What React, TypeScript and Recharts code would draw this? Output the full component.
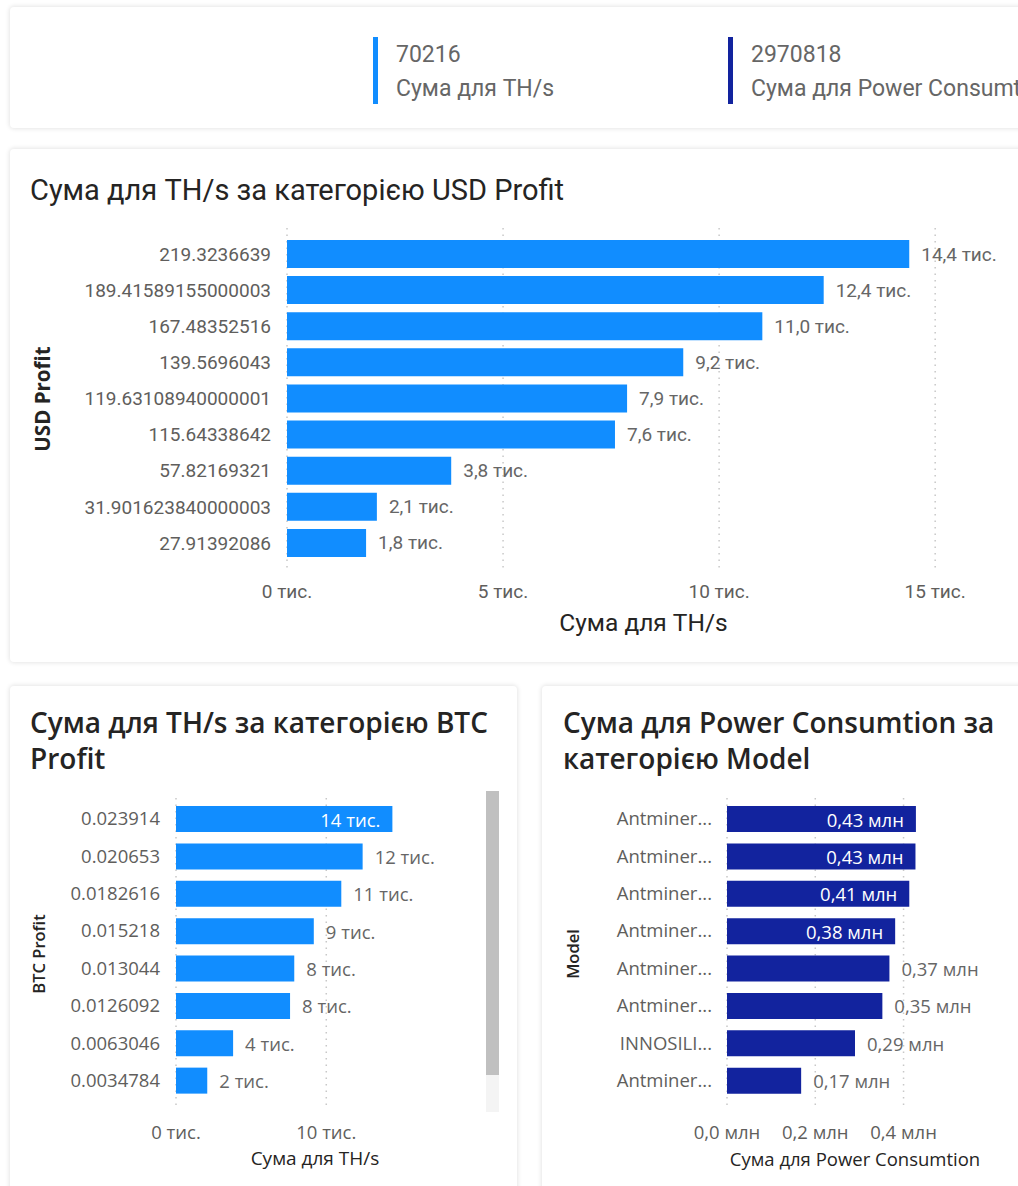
import React from "react";
import { BarChart, Bar, XAxis, YAxis, CartesianGrid, LabelList } from "recharts";

// KPI cards
const kpiValues = [70216, 2970818];
const kpiNames = ["Сума для TH/s", "Сума для Power Consumtion"];

// Сума для TH/s за категорією USD Profit
const usdProfitCats = [
  "219.3236639",
  "189.41589155000003",
  "167.48352516",
  "139.5696043",
  "119.63108940000001",
  "115.64338642",
  "57.82169321",
  "31.901623840000003",
  "27.91392086",
];
const usdThs = [14400, 12420, 11000, 9170, 7870, 7590, 3800, 2080, 1830];
const usdTicks = [0, 5000, 10000, 15000];

// Сума для TH/s за категорією BTC Profit (visible rows)
const btcProfitCats = [
  "0.023914",
  "0.020653",
  "0.0182616",
  "0.015218",
  "0.013044",
  "0.0126092",
  "0.0063046",
  "0.0034784",
];
const btcThs = [14400, 12420, 11000, 9170, 7870, 7590, 3800, 2080];
const btcTicks = [0, 10000];

// Сума для Power Consumtion за категорією Model
const modelCats = [
  "Antminer...",
  "Antminer...",
  "Antminer...",
  "Antminer...",
  "Antminer...",
  "Antminer...",
  "INNOSILI...",
  "Antminer...",
];
const modelPower = [428000, 427000, 413000, 381000, 368000, 352000, 290000, 168000];
const powerTicks = [0, 200000, 400000];

const LIGHT = "#118DFF";
const DARK = "#12239E";
const DIN = "Roboto, sans-serif";
const SEGOE = "'Segoe UI', 'Open Sans', sans-serif";
const TITLE = "#252423";
const GRAY = "#605E5C";

const usdData = usdProfitCats.map((name, i) => ({ name, value: usdThs[i] }));
const btcData = btcProfitCats.map((name, i) => ({ name, value: btcThs[i] }));
const modelData = modelCats.map((name, i) => ({ name, value: modelPower[i] }));

const comma = (s: string) => s.replace(".", ",");

function HBar(props: any) {
  const {
    data, width, height, margin, yWidth, domain, ticks, color, barSize, pad,
    tickFont, tickFmt, tickDy, labelFont, labelFmt, insideFrom,
    yTitle, yTitleX, yTitleStyle, xTitle, xTitleDy, xTitleStyle, yTickMargin, plotH,
  } = props;

  const xTick = (p: any) => (
    <text x={p.x} y={p.y + tickDy} textAnchor="middle" dominantBaseline="central" style={{ ...tickFont, fill: GRAY }}>
      {tickFmt(p.payload.value)}
    </text>
  );

  const xLabel = (p: any) => {
    const vb = p.viewBox;
    return (
      <text x={vb.x + vb.width / 2} y={vb.y + xTitleDy} textAnchor="middle" dominantBaseline="central" style={{ ...xTitleStyle, fill: TITLE }}>
        {xTitle}
      </text>
    );
  };

  const yLabel = (p: any) => {
    const vb = p.viewBox;
    const cx = vb.x + yTitleX;
    const cy = vb.y + vb.height / 2;
    return (
      <text x={cx} y={cy} transform={`rotate(-90 ${cx} ${cy})`} textAnchor="middle" dominantBaseline="central" style={{ ...yTitleStyle, fill: TITLE }}>
        {yTitle}
      </text>
    );
  };

  const barLabel = (p: any) => {
    const x = Number(p.x), y = Number(p.y), w = Number(p.width), h = Number(p.height);
    const inside = p.value >= insideFrom;
    return (
      <text
        x={inside ? x + w - 12 : x + w + 12}
        y={y + h / 2}
        textAnchor={inside ? "end" : "start"}
        dominantBaseline="central"
        style={{ ...labelFont, fill: inside ? "#ffffff" : "#666666" }}
      >
        {labelFmt(p.value)}
      </text>
    );
  };

  // grid only on the axis ticks
  const gridX = (args: any) => {
    const sc = args && args.xAxis && args.xAxis.scale;
    if (typeof sc === "function") return ticks.map((t: number) => sc(t));
    const o = args.offset;
    return ticks.map((t: number) => o.left + ((t - domain[0]) / (domain[1] - domain[0])) * o.width);
  };

  return (
    <BarChart width={width} height={height} data={data} layout="vertical" margin={margin}>
      <CartesianGrid
        horizontal={false}
        stroke="#c8c8c8"
        strokeDasharray="1.5 5"
        strokeWidth={1.5}
        verticalCoordinatesGenerator={gridX}
      />
      <XAxis
        type="number"
        domain={domain}
        ticks={ticks}
        interval={0}
        axisLine={false}
        tickLine={false}
        tickSize={0}
        tickMargin={0}
        height={height - margin.top - margin.bottom - plotH}
        tick={xTick}
        label={xLabel}
      />
      <YAxis
        type="category"
        dataKey="name"
        width={yWidth}
        interval={0}
        axisLine={false}
        tickLine={false}
        tickSize={0}
        tickMargin={yTickMargin}
        padding={pad}
        tick={{ ...tickFont, fill: GRAY }}
        label={yLabel}
      />
      <Bar dataKey="value" fill={color} barSize={barSize} isAnimationActive={false}>
        <LabelList dataKey="value" content={barLabel} />
      </Bar>
    </BarChart>
  );
}

const cardStyle = (left: number, top: number, width: number, height: number): React.CSSProperties => ({
  position: "absolute",
  left,
  top,
  width,
  height,
  background: "#fff",
  borderRadius: 4,
  boxShadow: "0 0 4px 1px rgba(0,0,0,0.10)",
});

function Kpi({ x, color, value, name }: any) {
  return (
    <>
      <div style={{ position: "absolute", left: x, top: 37, width: 5, height: 67, background: color }} />
      <div style={{ position: "absolute", left: x + 23, top: 40, height: 30, lineHeight: "30px", fontFamily: DIN, fontSize: 23, color: "#666", whiteSpace: "nowrap" }}>
        {value}
      </div>
      <div style={{ position: "absolute", left: x + 23, top: 74, height: 30, lineHeight: "30px", fontFamily: DIN, fontSize: 23, color: "#666", whiteSpace: "nowrap" }}>
        {name}
      </div>
    </>
  );
}

export default function App() {
  return (
    <div style={{ position: "absolute", left: 0, top: 0, width: 1018, height: 1186, overflow: "hidden", background: "#fff" }}>
      <div style={cardStyle(10, 7, 1030, 121)} />
      <div style={cardStyle(10, 149, 1030, 513)} />
      <div style={cardStyle(10, 686, 507, 530)} />
      <div style={cardStyle(542, 686, 500, 530)} />

      <Kpi x={373} color={LIGHT} value={kpiValues[0]} name={kpiNames[0]} />
      <Kpi x={728} color={DARK} value={kpiValues[1]} name={kpiNames[1]} />

      <div style={{ position: "absolute", left: 30, top: 172, lineHeight: "36px", fontFamily: DIN, fontSize: 29, color: TITLE, whiteSpace: "nowrap" }}>
        Сума для TH/s за категорією USD Profit
      </div>
      <div style={{ position: "absolute", left: 10, top: 148 }}>
        <HBar
          data={usdData}
          width={1008}
          height={514}
          margin={{ top: 80, right: 18, bottom: 0, left: 0 }}
          plotH={342}
          yWidth={277}
          domain={[0, 16500]}
          ticks={usdTicks}
          color={LIGHT}
          barSize={28}
          pad={{ top: 8, bottom: 9 }}
          yTickMargin={16}
          tickFont={{ fontFamily: DIN, fontSize: 19 }}
          tickFmt={(v: number) => `${v / 1000} тис.`}
          tickDy={21}
          labelFont={{ fontFamily: DIN, fontSize: 19 }}
          labelFmt={(v: number) => comma((v / 1000).toFixed(1)) + " тис."}
          insideFrom={Infinity}
          yTitle="USD Profit"
          yTitleX={32}
          yTitleStyle={{ fontFamily: SEGOE, fontSize: 20.5, fontWeight: 700 }}
          xTitle="Сума для TH/s"
          xTitleDy={52}
          xTitleStyle={{ fontFamily: DIN, fontSize: 24.5 }}
        />
      </div>

      <div style={{ position: "absolute", left: 30, top: 704, width: 480, lineHeight: "36px", fontFamily: SEGOE, fontSize: 28, fontWeight: 600, color: TITLE }}>
        Сума для TH/s за категорією BTC Profit
      </div>
      <div style={{ position: "absolute", left: 10, top: 685 }}>
        <HBar
          data={btcData}
          width={508}
          height={501}
          margin={{ top: 113, right: 64, bottom: 0, left: 0 }}
          plotH={312}
          yWidth={166}
          domain={[0, 18500]}
          ticks={btcTicks}
          color={LIGHT}
          barSize={26}
          pad={{ top: 2, bottom: 11 }}
          yTickMargin={16}
          tickFont={{ fontFamily: SEGOE, fontSize: 18.5 }}
          tickFmt={(v: number) => `${v / 1000} тис.`}
          tickDy={21}
          labelFont={{ fontFamily: SEGOE, fontSize: 18.5 }}
          labelFmt={(v: number) => `${Math.round(v / 1000)} тис.`}
          insideFrom={13000}
          yTitle="BTC Profit"
          yTitleX={28}
          yTitleStyle={{ fontFamily: SEGOE, fontSize: 16.5, fontWeight: 600 }}
          xTitle="Сума для TH/s"
          xTitleDy={48}
          xTitleStyle={{ fontFamily: SEGOE, fontSize: 19 }}
        />
      </div>
      <div style={{ position: "absolute", left: 486, top: 791, width: 13, height: 284, background: "#c0c0c0" }} />
      <div style={{ position: "absolute", left: 486, top: 1075, width: 13, height: 37, background: "#f4f4f4" }} />

      <div style={{ position: "absolute", left: 563, top: 704, width: 455, lineHeight: "36px", fontFamily: SEGOE, fontSize: 28, fontWeight: 600, color: TITLE }}>
        Сума для Power Consumtion за категорією Model
      </div>
      <div style={{ position: "absolute", left: 542, top: 685 }}>
        <HBar
          data={modelData}
          width={476}
          height={501}
          margin={{ top: 113, right: 35, bottom: 0, left: 0 }}
          plotH={312}
          yWidth={185}
          domain={[0, 580000]}
          ticks={powerTicks}
          color={DARK}
          barSize={26}
          pad={{ top: 2, bottom: 11 }}
          yTickMargin={15}
          tickFont={{ fontFamily: SEGOE, fontSize: 18.5 }}
          tickFmt={(v: number) => comma((v / 1e6).toFixed(1)) + " млн"}
          tickDy={21}
          labelFont={{ fontFamily: SEGOE, fontSize: 18.5 }}
          labelFmt={(v: number) => comma((v / 1e6).toFixed(2)) + " млн"}
          insideFrom={375000}
          yTitle="Model"
          yTitleX={30}
          yTitleStyle={{ fontFamily: SEGOE, fontSize: 16.5, fontWeight: 600 }}
          xTitle="Сума для Power Consumtion"
          xTitleDy={48}
          xTitleStyle={{ fontFamily: SEGOE, fontSize: 18.5 }}
        />
      </div>
    </div>
  );
}
